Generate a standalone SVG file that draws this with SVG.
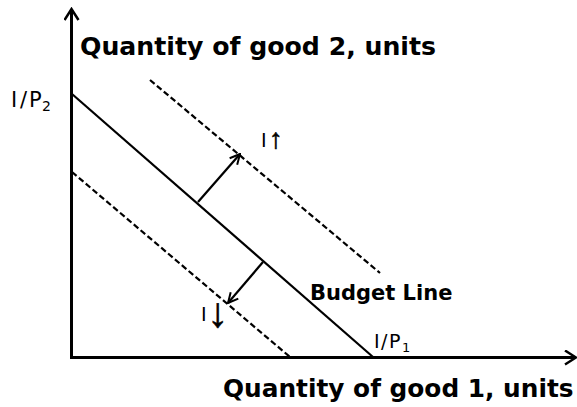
<svg xmlns="http://www.w3.org/2000/svg" width="577" height="407" viewBox="0 0 577 407">
<style>
.t{font-family:"DejaVu Sans",Verdana,sans-serif;fill:#000}
.b{font-weight:bold}
.ar{font-family:"Liberation Sans",Arial,sans-serif;fill:#000;stroke:#000;stroke-width:0.6}
.ln{stroke:#000;fill:none}
.d{stroke-width:2.2;stroke-dasharray:6 3}
</style>
<defs>
<marker id="ah" viewBox="0 0 14 16" refX="12" refY="8" markerWidth="14" markerHeight="16" markerUnits="userSpaceOnUse" orient="auto">
<path d="M1,1 L12,8 L1,15" fill="none" stroke="#000" stroke-width="2.5"/>
</marker>
<marker id="sh" viewBox="0 0 12 12" refX="11" refY="6" markerWidth="12" markerHeight="12" markerUnits="userSpaceOnUse" orient="auto">
<path d="M1,1 L11,6 L1,11" fill="none" stroke="#000" stroke-width="2"/>
</marker>
</defs>
<rect width="577" height="407" fill="#fff"/>
<g id="connectors">
<line id="y-axis" class="ln" x1="71.5" y1="358" x2="71.5" y2="9" stroke-width="3" marker-end="url(#ah)"/>
<line id="x-axis" class="ln" x1="70" y1="357.5" x2="576" y2="357.5" stroke-width="3" marker-end="url(#ah)"/>
<line id="budget-line" class="ln" x1="72" y1="94" x2="373" y2="357" stroke-width="2.2"/>
<line id="upper-dashed" class="ln d" x1="150" y1="80" x2="380" y2="273"/>
<line id="lower-dashed" class="ln d" x1="72" y1="172" x2="290" y2="357"/>
<line id="shift-up" class="ln" x1="198" y1="202" x2="240" y2="154" stroke-width="2.2" marker-end="url(#sh)"/>
<line id="shift-down" class="ln" x1="263" y1="262" x2="228" y2="303" stroke-width="2.2" marker-end="url(#sh)"/>
</g>
<g id="label-y-title"><text class="t b" x="80" y="55" font-size="25.2">Quantity of good 2, units</text></g>
<g id="label-x-title"><text class="t b" x="223" y="397" font-size="24.8">Quantity of good 1, units</text></g>
<g id="label-budget"><text class="t b" x="310" y="300" font-size="21">Budget Line</text></g>
<g id="label-ip2"><text class="t" font-size="21" y="107"><tspan x="11">I</tspan><tspan x="20">/</tspan><tspan x="29">P</tspan><tspan x="42" y="111" font-size="14">2</tspan></text></g>
<g id="label-ip1"><text class="t" font-size="19" y="348"><tspan x="374">I</tspan><tspan x="381">/</tspan><tspan x="389">P</tspan><tspan x="402" y="352" font-size="13">1</tspan></text></g>
<g id="label-iup"><text class="t" font-size="19" y="147"><tspan x="261">I</tspan><tspan class="ar" x="269" y="148" font-size="28">↑</tspan></text></g>
<g id="label-idown"><text class="t" font-size="19" y="321"><tspan x="201">I</tspan><tspan class="ar" x="207" y="327" font-size="42">↓</tspan></text></g>
</svg>
